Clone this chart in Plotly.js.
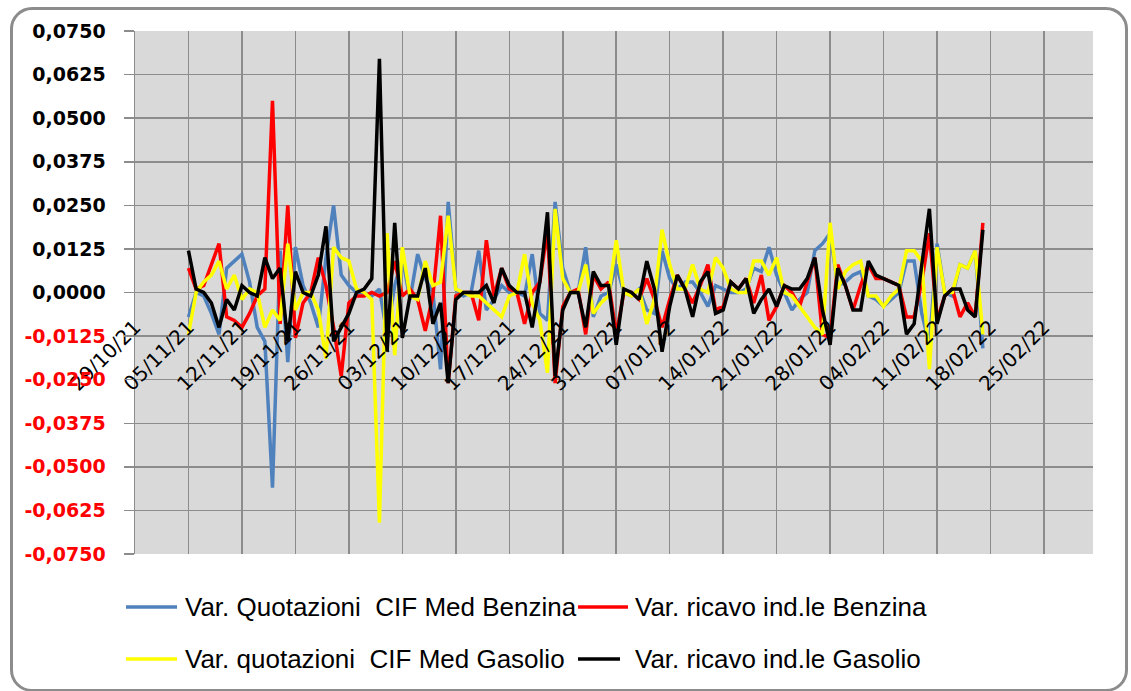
<!DOCTYPE html>
<html>
<head>
<meta charset="utf-8">
<script src="https://cdn.plot.ly/plotly-3.0.1.min.js"></script>
<style>
  html, body { margin:0; padding:0; background:#fff; overflow:hidden; }
  #chart { width:1131px; height:691px; position:relative; }
  #frame { position:absolute; left:10px; top:7px; width:1112px; height:679px;
           border:3px solid #8c8c8c; border-radius:22px; pointer-events:none; }
</style>
</head>
<body>
<div id="chart"></div>
<div id="frame"></div>
<script>
// ---- DATA ----
const dates = [
 '2021-11-05','2021-11-06','2021-11-07','2021-11-08','2021-11-09','2021-11-10','2021-11-11','2021-11-12','2021-11-13','2021-11-14',
 '2021-11-15','2021-11-16','2021-11-17','2021-11-18','2021-11-19','2021-11-20','2021-11-21','2021-11-22','2021-11-23','2021-11-24',
 '2021-11-25','2021-11-26','2021-11-27','2021-11-28','2021-11-29','2021-11-30','2021-12-01','2021-12-02','2021-12-03','2021-12-04',
 '2021-12-05','2021-12-06','2021-12-07','2021-12-08','2021-12-09','2021-12-10','2021-12-11','2021-12-12','2021-12-13','2021-12-14',
 '2021-12-15','2021-12-16','2021-12-17','2021-12-18','2021-12-19','2021-12-20','2021-12-21','2021-12-22','2021-12-23','2021-12-24',
 '2021-12-25','2021-12-26','2021-12-27','2021-12-28','2021-12-29','2021-12-30','2021-12-31','2022-01-01','2022-01-02','2022-01-03',
 '2022-01-04','2022-01-05','2022-01-06','2022-01-07','2022-01-08','2022-01-09','2022-01-10','2022-01-11','2022-01-12','2022-01-13',
 '2022-01-14','2022-01-15','2022-01-16','2022-01-17','2022-01-18','2022-01-19','2022-01-20','2022-01-21','2022-01-22','2022-01-23',
 '2022-01-24','2022-01-25','2022-01-26','2022-01-27','2022-01-28','2022-01-29','2022-01-30','2022-01-31','2022-02-01','2022-02-02',
 '2022-02-03','2022-02-04','2022-02-05','2022-02-06','2022-02-07','2022-02-08','2022-02-09','2022-02-10','2022-02-11','2022-02-12',
 '2022-02-13','2022-02-14','2022-02-15','2022-02-16','2022-02-17'
];

const quotCifBenzina = [
 -0.007,0.000,-0.001,-0.006,-0.012,0.007,0.009,0.011,0.003,-0.010,
 -0.014,-0.056,0.012,-0.020,0.013,0.002,-0.003,-0.010,0.010,0.025,
 0.005,0.002,0.000,0.000,-0.001,0.001,-0.012,0.002,0.010,-0.002,
 0.011,0.004,0.000,-0.022,0.026,0.001,-0.001,0.000,0.012,-0.005,
 -0.002,0.002,0.000,0.000,-0.001,0.011,-0.006,-0.008,0.026,0.007,
 0.000,0.000,0.013,-0.007,-0.001,0.000,0.008,0.000,-0.001,0.001,
 -0.005,-0.006,0.012,0.004,0.001,0.003,0.003,0.000,-0.004,0.002,
 0.001,0.000,0.000,0.001,0.007,0.006,0.013,0.005,0.000,-0.005,
 -0.002,0.000,0.012,0.014,0.017,0.002,0.003,0.005,0.006,-0.001,
 -0.002,-0.004,-0.002,0.000,0.009,0.009,-0.006,-0.015,0.014,0.000,
 -0.001,0.008,0.007,0.012,-0.016
];

const ricavoBenzina = [
 0.007,0.001,0.002,0.008,0.014,-0.007,-0.008,-0.010,-0.006,-0.001,
 0.001,0.055,-0.009,0.025,-0.013,-0.003,0.000,0.010,0.002,-0.010,
 -0.024,-0.003,-0.001,-0.001,0.000,-0.001,0.000,0.009,-0.001,0.001,
 -0.002,-0.011,-0.001,0.022,-0.026,-0.001,0.000,0.000,-0.008,0.015,
 -0.001,0.007,0.001,0.000,-0.009,0.000,0.003,0.018,-0.026,-0.004,
 0.000,0.001,-0.012,0.005,0.001,0.003,-0.012,0.000,0.000,-0.002,
 0.004,-0.002,-0.010,-0.002,0.005,0.001,-0.003,0.002,0.008,-0.005,
 -0.004,0.003,0.001,0.004,-0.003,0.005,-0.008,-0.004,0.002,0.000,
 -0.004,0.003,0.010,-0.012,-0.013,0.008,0.002,-0.005,0.002,0.008,
 0.004,0.004,0.003,0.002,-0.007,-0.007,0.003,0.017,-0.008,-0.001,
 0.001,-0.007,-0.003,-0.007,0.020
];

const quotCifGasolio = [
 -0.012,0.000,0.003,0.005,0.009,0.001,0.005,-0.002,0.001,0.000,
 -0.010,-0.005,-0.008,0.014,-0.005,0.000,0.000,-0.005,-0.019,0.013,
 0.010,0.009,0.001,0.000,-0.002,-0.066,0.017,-0.018,0.013,-0.001,
 -0.002,0.009,0.002,0.003,0.022,0.001,0.000,-0.001,-0.001,-0.003,
 -0.005,-0.007,-0.001,0.000,0.011,-0.003,-0.008,-0.023,0.024,0.004,
 0.000,0.000,0.008,-0.006,-0.003,-0.001,0.015,0.000,-0.001,0.001,
 -0.009,-0.002,0.018,0.008,0.001,0.001,0.008,0.001,0.000,0.010,
 0.007,0.001,0.000,0.000,0.009,0.009,0.005,0.010,0.000,-0.001,
 -0.004,-0.007,-0.010,-0.012,0.020,0.001,0.006,0.008,0.009,-0.001,
 -0.001,-0.004,-0.001,0.001,0.012,0.012,0.009,-0.022,0.013,0.000,
 0.000,0.008,0.007,0.012,-0.012
];

const ricavoGasolio = [
 0.012,0.001,0.000,-0.003,-0.010,-0.002,-0.005,0.002,0.000,-0.001,
 0.010,0.004,0.007,-0.014,0.006,0.000,-0.001,0.005,0.019,-0.014,
 -0.010,-0.006,0.000,0.001,0.004,0.067,-0.017,0.020,-0.013,-0.001,
 -0.001,0.007,-0.009,-0.003,-0.026,-0.002,0.000,0.000,0.000,0.002,
 -0.003,0.007,0.002,0.000,0.000,-0.010,0.003,0.023,-0.024,-0.005,
 0.000,0.000,-0.010,0.006,0.002,0.002,-0.015,0.001,0.000,-0.002,
 0.009,0.001,-0.017,-0.004,0.005,0.001,-0.007,0.003,0.006,-0.006,
 -0.005,0.003,0.001,0.004,-0.006,-0.002,0.001,-0.004,0.002,0.001,
 0.001,0.004,0.010,-0.005,-0.015,0.007,0.002,-0.005,-0.005,0.009,
 0.005,0.004,0.003,0.002,-0.012,-0.009,0.008,0.024,-0.009,-0.001,
 0.001,0.001,-0.005,-0.007,0.018
];

const seriesNames = [
 'Var. Quotazioni  CIF Med Benzina',
 'Var. ricavo ind.le Benzina',
 'Var. quotazioni  CIF Med Gasolio',
 'Var. ricavo ind.le Gasolio'
];
const seriesColors = ['#4f81bd', '#ff0000', '#ffff00', '#000000'];
const yTickVals = [0.075,0.0625,0.05,0.0375,0.025,0.0125,0,-0.0125,-0.025,-0.0375,-0.05,-0.0625,-0.075];

// ---- CHART ----
const seriesData = [quotCifBenzina, ricavoBenzina, quotCifGasolio, ricavoGasolio];
const traces = seriesData.map((ys, i) => ({
  type: 'scatter', mode: 'lines', x: dates, y: ys, name: seriesNames[i],
  line: { color: seriesColors[i], width: 3.5 }, showlegend: false, hoverinfo: 'skip'
}));

const yTickText = yTickVals.map(v => {
  const s = v.toFixed(4).replace('.', ',');
  return v < 0 ? '<span style="fill:#ff0000">' + s + '</span>' : s;
});

// legend built from shapes + annotations (two rows, two columns)
const W = 958, H = 523, L = 135, T = 31;
const px = x => (x - L) / W;
const py = y => (T + H - y) / H;
const legendItems = [
  { line: [126, 177], text: 183, y: 607 },
  { line: [578, 628], text: 633, y: 607 },
  { line: [126, 177], text: 183, y: 659 },
  { line: [578, 620], text: 633, y: 659 }
];
const shapes = legendItems.map((it, i) => ({
  type: 'line', xref: 'paper', yref: 'paper',
  x0: px(it.line[0]), x1: px(it.line[1]), y0: py(it.y), y1: py(it.y),
  line: { color: seriesColors[i], width: 3.5 }
}));
const annotations = legendItems.map((it, i) => ({
  xref: 'paper', yref: 'paper', x: px(it.text), y: py(it.y),
  xanchor: 'left', yanchor: 'middle', showarrow: false, text: seriesNames[i],
  font: { family: 'Liberation Sans, Arial, sans-serif', size: 26, color: '#000' }
}));

const layout = {
  width: 1131, height: 691,
  margin: { l: L, r: 1131 - L - W, t: T, b: 691 - T - H },
  paper_bgcolor: '#ffffff', plot_bgcolor: '#d9d9d9',
  showlegend: false,
  xaxis: {
    type: 'date', range: ['2021-10-29', '2022-03-03 10:00'],
    tick0: '2021-10-29', dtick: 7 * 86400000, tickformat: '%d/%m/%y',
    tickangle: -45, anchor: 'free', position: 0.5,
    showgrid: true, gridcolor: '#8c8c8c', gridwidth: 1.5,
    zeroline: false, showline: false, ticks: '',
    ticklabelstandoff: 18,
    tickfont: { family: 'DejaVu Sans', size: 20, color: '#000' }
  },
  yaxis: {
    range: [-0.075, 0.075], tickvals: yTickVals, ticktext: yTickText,
    ticks: 'outside', ticklen: 10, tickcolor: '#8c8c8c', tickwidth: 1.5,
    showgrid: true, gridcolor: '#8c8c8c', gridwidth: 1.5,
    zeroline: false, showline: true, linecolor: '#8c8c8c', linewidth: 1.5,
    ticklabelstandoff: 14,
    tickfont: { family: 'DejaVu Sans', size: 19, color: '#000', weight: 'bold' }
  },
  shapes: shapes,
  annotations: annotations
};

Plotly.newPlot('chart', traces, layout, { displayModeBar: false, staticPlot: true });
</script>
</body>
</html>
